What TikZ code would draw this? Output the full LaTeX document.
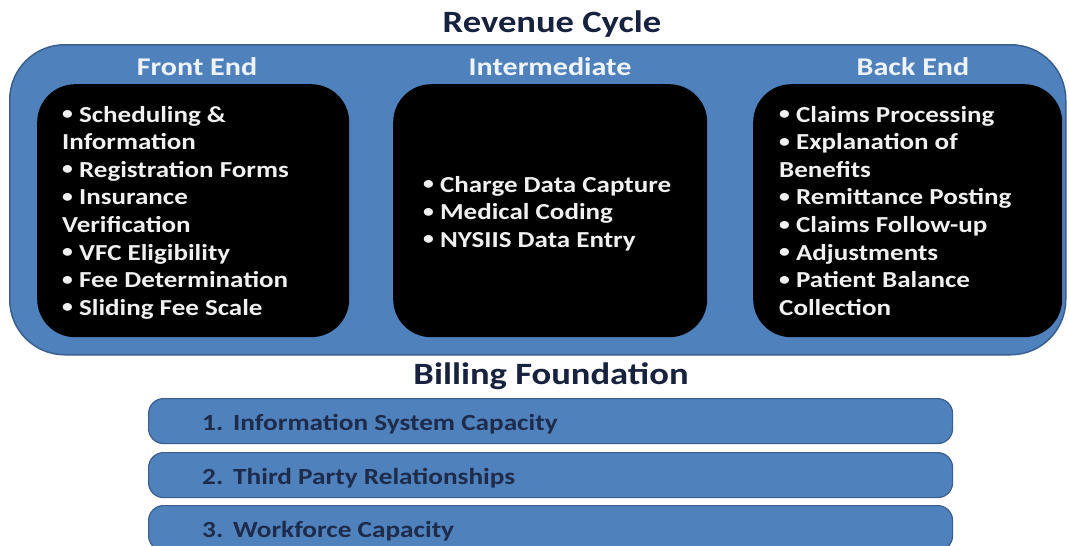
\documentclass[tikz,border=0pt]{standalone}
\usepackage{fontspec}
\setmainfont{Carlito}[FakeStretch=1.18]
\definecolor{panelblue}{HTML}{4F81BD}
\definecolor{paneledge}{HTML}{3A5F8F}
\definecolor{navy}{HTML}{17223F}
\definecolor{bartext}{HTML}{1E2B4A}
\definecolor{lighttext}{HTML}{F0F0F0}
\definecolor{headtext}{HTML}{EEF3FA}
% smaller list bullet
\newcommand\itemdot{\raisebox{0.1em}{\scalebox{0.8}{•}}}
\begin{document}
\begin{tikzpicture}[x=1pt,y=-1pt,
  outerpanel/.style={draw=paneledge, line width=1.5pt, fill=panelblue,
    rounded corners=55pt, anchor=north west, inner sep=0pt},
  stagebox/.style={fill=black, rounded corners=38pt, anchor=north west,
    inner sep=0pt, minimum height=253pt},
  heading/.style={font=\bfseries\fontsize{25.5}{30}\selectfont, text=headtext},
  bigtitle/.style={font=\bfseries\fontsize{31}{36}\selectfont, text=navy, anchor=base},
  itemline/.style={font=\bfseries\fontsize{22.9}{27}\selectfont, text=lighttext,
    anchor=base west, inner sep=0pt},
  foundbar/.style={draw=paneledge, line width=1.2pt, fill=panelblue,
    rounded corners=15pt, anchor=north west, inner sep=0pt,
    minimum width=804pt, minimum height=45pt},
  bartxt/.style={font=\bfseries\fontsize{23.1}{27}\selectfont, text=bartext,
    anchor=base west, inner sep=0pt}
]
\useasboundingbox (0,0) rectangle (1069,546);

% Revenue cycle panel
\node[bigtitle] (title) at (552,32) {Revenue Cycle};
\node[outerpanel, minimum width=1056pt, minimum height=310pt] (cycle) at (9,44) {};

% Three stages
\node[stagebox, minimum width=312pt] (front) at (37,84) {};
\node[stagebox, minimum width=314pt] (mid) at (393,84) {};
\node[stagebox, minimum width=309pt] (back) at (753,84) {};

\node[heading] (fronthead) at (197,67) {Front End};
\node[heading] (midhead) at (550,67) {Intermediate};
\node[heading] (backhead) at (913,67) {Back End};

% Stage contents, one line per node
\foreach \t [count=\i] in {{\itemdot\ Scheduling \&},{Information},{\itemdot\ Registration Forms},
    {\itemdot\ Insurance},{Verification},{\itemdot\ VFC Eligibility},{\itemdot\ Fee Determination},
    {\itemdot\ Sliding Fee Scale}}
  \node[itemline] (fe\i) at (62,{122+27.6*(\i-1)}) {\t};

\foreach \t [count=\i] in {{\itemdot\ Charge Data Capture},{\itemdot\ Medical Coding},
    {\itemdot\ NYSIIS Data Entry}}
  \node[itemline] (im\i) at (423,{192+27.5*(\i-1)}) {\t};

\foreach \t [count=\i] in {{\itemdot\ Claims Processing},{\itemdot\ Explanation of},{Benefits},
    {\itemdot\ Remittance Posting},{\itemdot\ Claims Follow-up},{\itemdot\ Adjustments},
    {\itemdot\ Patient Balance},{Collection}}
  \node[itemline] (be\i) at (779,{122+27.6*(\i-1)}) {\t};

% Billing foundation
\node[bigtitle] (foundation) at (551,384) {Billing Foundation};
\node[foundbar] (bar1) at (148,398) {};
\node[foundbar] (bar2) at (148,452) {};
\node[foundbar] (bar3) at (148,505) {};

\node[bartxt] (bt1) at (202,430) {\makebox[31pt][l]{1.}Information System Capacity};
\node[bartxt] (bt2) at (202,484) {\makebox[31pt][l]{2.}Third Party Relationships};
\node[bartxt] (bt3) at (202,537) {\makebox[31pt][l]{3.}Workforce Capacity};
\end{tikzpicture}
\end{document}
